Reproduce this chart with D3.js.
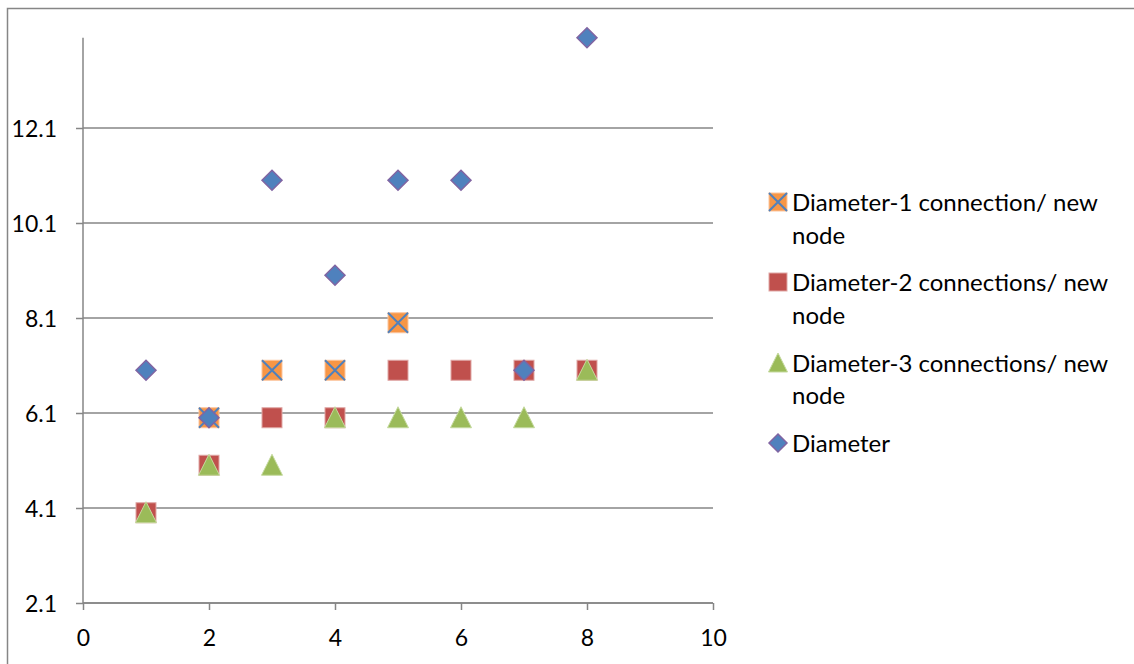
<!DOCTYPE html>
<html><head><meta charset="utf-8">
<script src="https://cdn.jsdelivr.net/npm/d3@7"></script>
<style>body{margin:0;background:#fff}svg{display:block}text{font-family:Lato,"Open Sans",sans-serif;fill:#000}</style>
</head><body><svg id="c" width="1134" height="664"></svg>
<script>
const seriesNames = ["Diameter-1 connection/ new node","Diameter-2 connections/ new node","Diameter-3 connections/ new node","Diameter"];
const d1X = [2,3,4,5];
const d1Y = [6,7,7,8];
const d2X = [1,2,3,4,5,6,7,8];
const d2Y = [4,5,6,6,7,7,7,7];
const d3X = [1,2,3,4,5,6,7,8];
const d3Y = [4,5,5,6,6,6,6,7];
const dX = [1,2,3,4,5,6,7,8];
const dY = [7,6,11,9,11,11,7,14];
const xTicks = [0,2,4,6,8,10];
const yTicks = [2.1,4.1,6.1,8.1,10.1,12.1];

const svg = d3.select("#c");
const x = d3.scaleLinear().domain([0,10]).range([83,713]);
const y = d3.scaleLinear().domain([2.1,14]).range([603,37.75]);
const grid = "#868686";

svg.append("rect").attr("x",7.5).attr("y",8.5).attr("width",1140).attr("height",670).attr("fill","none").attr("stroke",grid).attr("stroke-width",1.5);

// gridlines
svg.append("g").selectAll("line").data(yTicks).join("line")
  .attr("x1",x(0)).attr("x2",x(10)).attr("y1",d=>y(d)).attr("y2",d=>y(d))
  .attr("stroke",grid).attr("stroke-width",1.5);

const yAxis = svg.append("g").attr("transform",`translate(${x(0)},0)`)
  .call(d3.axisLeft(y).tickValues(yTicks).tickFormat(d3.format(".1f")).tickSize(7).tickPadding(19));
const xAxis = svg.append("g").attr("transform",`translate(0,${y(2.1)})`)
  .call(d3.axisBottom(x).tickValues(xTicks).tickFormat(d3.format("d")).tickSize(7).tickPadding(20));
[yAxis,xAxis].forEach(a=>{
  a.attr("font-size",null).attr("font-family",null);
  a.select(".domain").attr("stroke",grid).attr("stroke-width",1.5);
  a.selectAll(".tick line").attr("stroke",grid).attr("stroke-width",1.5);
  a.selectAll("text").style("font-size","23px").style("font-family","Lato").attr("fill","#000");
});
yAxis.selectAll("text").attr("dy","0.36em");
yAxis.select(".domain").attr("d",`M0,${y(2.1)}V${y(14)}`);
xAxis.select(".domain").attr("d",`M${x(0)},0H${x(10)}`);

const S = 10;
function drawMarker(g, type, cx, cy, s){
  if(type===0){
    g.append("rect").attr("x",cx-s).attr("y",cy-s).attr("width",2*s).attr("height",2*s).attr("fill","#F79646").attr("stroke","#FBC59E").attr("stroke-width",1);
    g.append("path").attr("d",`M${cx-s},${cy-s}L${cx+s},${cy+s}M${cx+s},${cy-s}L${cx-s},${cy+s}`).attr("stroke","#4F81BD").attr("stroke-width",2);
  } else if(type===1){
    g.append("rect").attr("x",cx-s).attr("y",cy-s).attr("width",2*s).attr("height",2*s).attr("fill","#C0504D").attr("stroke","#E0A7A5").attr("stroke-width",1);
  } else if(type===2){
    g.append("path").attr("d",`M${cx},${cy-s-1}L${cx+s+0.5},${cy+s}L${cx-s-0.5},${cy+s}Z`).attr("fill","#9BBB59").attr("stroke","#C5DA9F").attr("stroke-width",1);
  } else {
    g.append("path").attr("d",`M${cx},${cy-s}L${cx+s},${cy}L${cx},${cy+s}L${cx-s},${cy}Z`).attr("fill","#4F81BD").attr("stroke","#8064A2").attr("stroke-width",1.5);
  }
}
const all = [[d1X,d1Y],[d2X,d2Y],[d3X,d3Y],[dX,dY]];
all.forEach((s,i)=>{
  const g = svg.append("g");
  s[0].forEach((xv,j)=>drawMarker(g,i,x(xv),y(s[1][j]),S));
});

// legend
const legRows = [[202,235],[282,315],[363,395],[443]];
const lg = svg.append("g");
seriesNames.forEach((name,i)=>{
  const r = legRows[i];
  drawMarker(lg,i,778,r[0],9);
  const parts = name.endsWith(" node") && i<3 ? [name.slice(0,-5), "node"] : [name];
  parts.forEach((p,k)=>{
    lg.append("text").attr("x",792).attr("y",r[k]).attr("dy","0.36em").style("font-size","24px").text(p);
  });
});
</script></body></html>
